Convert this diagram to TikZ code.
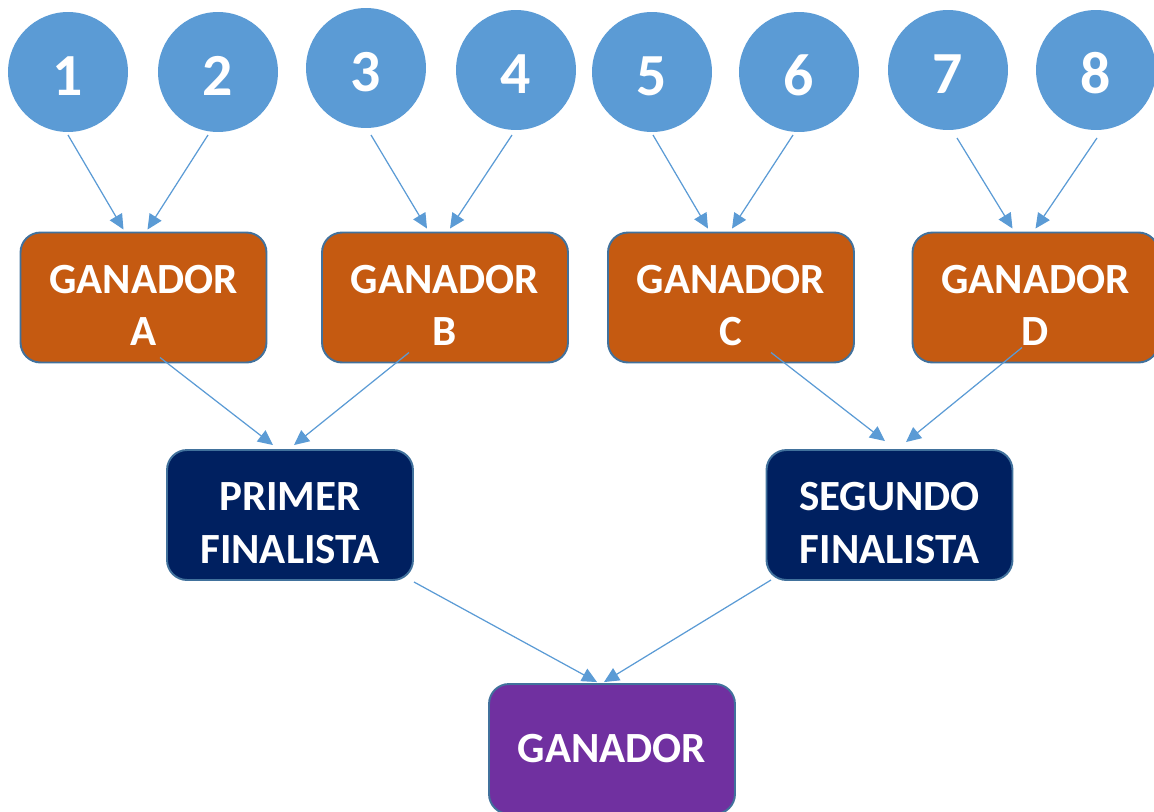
\documentclass[tikz,border=0pt]{standalone}
\usepackage{fontspec}
\setmainfont{Carlito}
\usepackage{tikz}
\usetikzlibrary{arrows.meta,calc}
\usepackage{xcolor}
\definecolor{tbblue}{RGB}{91,155,213}
\definecolor{tbedge}{RGB}{65,113,156}
\definecolor{tborange}{RGB}{197,90,17}
\definecolor{tbnavy}{RGB}{0,32,96}
\definecolor{tbpurple}{RGB}{112,48,160}
\tikzstyle{arrow} = [line width=0.7pt,-{Triangle[length=0.3cm,width=0.28cm]},color=tbblue]
\newcommand{\digitstrut}{\rule{0pt}{27pt}}

\begin{document}
\begin{tikzpicture}[x=0.02cm, y=-0.02cm,
    player/.style={circle, fill=tbblue, draw=none, minimum size=2.4cm, inner sep=0pt, text=white, font=\fontsize{34}{40}\selectfont\bfseries, execute at begin node=\digitstrut},
    winbox/.style={rectangle, rounded corners=0.4cm, draw=tbedge, line width=1.1pt, minimum width=4.92cm, minimum height=2.6cm, align=center, text=white, font=\fontsize{24.5}{30}\selectfont\bfseries},
    twoline/.style={winbox, text height=55pt, text depth=0pt}]

\useasboundingbox (0,0) rectangle (1154,812);

% Players
\node[player] (p1) at (68,72) {1};
\node[player] (p2) at (218,72) {2};
\node[player] (p3) at (366,68) {3};
\node[player] (p4) at (516,70) {4};
\node[player] (p5) at (652,72) {5};
\node[player] (p6) at (799,72) {6};
\node[player] (p7) at (948,70) {7};
\node[player] (p8) at (1096,70) {8};

% First round winners
\node[twoline, fill=tborange] (gA) at (143.5,297.5) {GANADOR\\A};
\node[twoline, fill=tborange] (gB) at (445,297.5) {GANADOR\\B};
\node[twoline, fill=tborange] (gC) at (731,297.5) {GANADOR\\C};
\node[twoline, fill=tborange] (gD) at (1035.5,297.5) {GANADOR\\D};

% Finalists
\node[twoline, fill=tbnavy] (fin1) at (290,515) {PRIMER\\FINALISTA};
\node[twoline, fill=tbnavy] (fin2) at (889.5,515) {SEGUNDO\\FINALISTA};

% Champion
\node[winbox, fill=tbpurple] (champ) at (612,749) {GANADOR};

% Players to first round
\draw[arrow] ($(p1.center)+(0,63)$) -- ($(gA.north)+(-20,-2)$);
\draw[arrow] ($(p2.center)+(-10,63)$) -- ($(gA.north)+(4,-2)$);
\draw[arrow] ($(p3.center)+(5,67)$) -- ($(gB.north)+(-18,-3)$);
\draw[arrow] ($(p4.center)+(-4,65)$) -- ($(gB.north)+(5,-3)$);
\draw[arrow] ($(p5.center)+(1,63)$) -- ($(gC.north)+(-23,-3)$);
\draw[arrow] ($(p6.center)+(-6,63)$) -- ($(gC.north)+(1,-3)$);
\draw[arrow] ($(p7.center)+(9,68)$) -- ($(gD.north)+(-23,-3)$);
\draw[arrow] ($(p8.center)+(1,68)$) -- ($(gD.north)+(0,-3)$);

% First round to finalists
\draw[arrow] ($(gA.center)+(16.5,60)$) -- ($(fin1.north)+(-17,-4)$);
\draw[arrow] ($(gB.center)+(-36,55)$) -- ($(fin1.north)+(4,-4)$);
\draw[arrow] ($(gC.center)+(40,55)$) -- ($(fin2.north)+(-4.5,-8)$);
\draw[arrow] ($(gD.center)+(-13.5,50)$) -- ($(fin2.north)+(16.5,-7)$);

% Finalists to champion
\draw[arrow] ($(fin1.center)+(124,67)$) -- ($(champ.north)+(-15,-1)$);
\draw[arrow] ($(fin2.center)+(-118.5,65)$) -- ($(champ.north)+(-8,-1)$);

\end{tikzpicture}
\end{document}
